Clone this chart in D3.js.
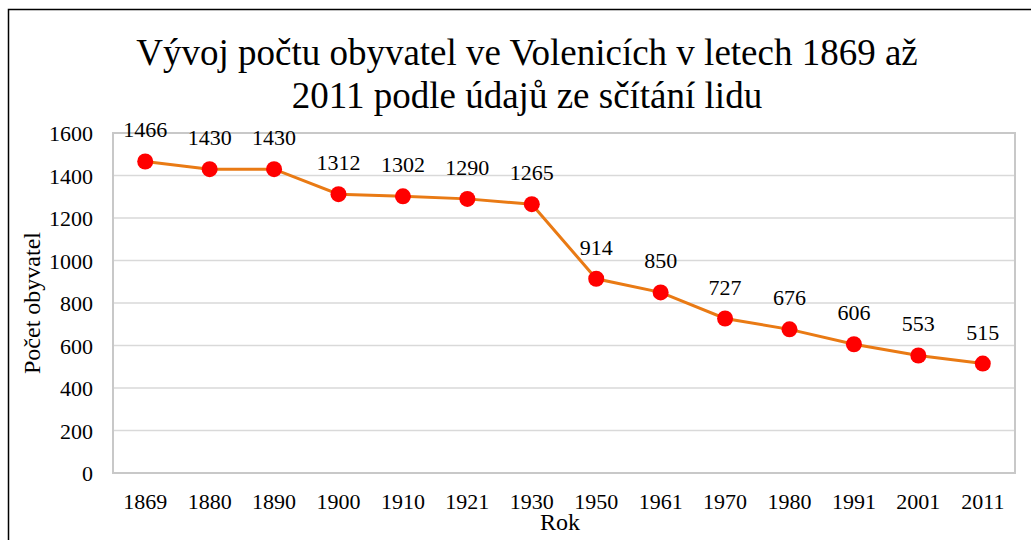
<!DOCTYPE html>
<html>
<head>
<meta charset="utf-8">
<script src="https://cdn.jsdelivr.net/npm/d3@7"></script>
<style>
  body { margin: 0; background: #fff; }
  svg text { font-family: "Times New Roman", "Liberation Serif", "DejaVu Serif", serif !important; fill: #000; }
</style>
</head>
<body>
<div id="chart"></div>
<script>
// data
const years = ["1869", "1880", "1890", "1900", "1910", "1921", "1930", "1950", "1961", "1970", "1980", "1991", "2001", "2011"];
const population = [1466, 1430, 1430, 1312, 1302, 1290, 1265, 914, 850, 727, 676, 606, 553, 515];
const yTicks = [0, 200, 400, 600, 800, 1000, 1200, 1400, 1600];
const titleLines = ["Vývoj počtu obyvatel ve Volenicích v letech 1869 až", "2011 podle údajů ze sčítání lidu"];

const W = 1031, H = 540;
const margin = { top: 133, right: 16, bottom: 67, left: 113 },
  width = W - margin.left - margin.right,
  height = H - margin.top - margin.bottom;

const root = d3.select("#chart")
  .append("svg")
  .attr("width", W)
  .attr("height", H);

// outer chart frame (runs off the right/bottom of the picture)
root.append("rect")
  .attr("x", 8.5).attr("y", 9.5)
  .attr("width", 1040).attr("height", 560)
  .attr("fill", "none")
  .attr("stroke", "#000")
  .attr("stroke-width", 1.5);

// title
root.append("text")
  .attr("x", 527)
  .attr("y", 65)
  .attr("text-anchor", "middle")
  .attr("font-size", "37px")
  .selectAll("tspan")
  .data(titleLines)
  .join("tspan")
  .attr("x", 527)
  .attr("dy", (d, i) => i === 0 ? 0 : 43)
  .text(d => d);

const svg = root.append("g")
  .attr("transform", `translate(${margin.left}, ${margin.top})`);

const x = d3.scaleBand()
  .domain(years)
  .range([0, width]);

const y = d3.scaleLinear()
  .domain([0, 1600])
  .range([height, 0]);

// gridlines
svg.append("g")
  .selectAll("line")
  .data(yTicks.filter(t => t > 0))
  .join("line")
  .attr("x1", 0).attr("x2", width)
  .attr("y1", d => y(d)).attr("y2", d => y(d))
  .attr("stroke", "#d9d9d9")
  .attr("stroke-width", 1.5);

// plot area border
svg.append("rect")
  .attr("x", 0).attr("y", 0)
  .attr("width", width).attr("height", height)
  .attr("fill", "none")
  .attr("stroke", "#c8c8c8")
  .attr("stroke-width", 2);

// y axis labels
const yAxis = svg.append("g")
  .call(d3.axisLeft(y).tickValues(yTicks).tickFormat(d3.format("d")).tickSize(0).tickPadding(20));
yAxis.select(".domain").remove();
yAxis.selectAll("text")
  .attr("font-size", "22px")
  .attr("dy", "0.35em");

// x axis labels
const xAxis = svg.append("g")
  .attr("transform", `translate(0, ${height})`)
  .call(d3.axisBottom(x).tickSize(0).tickPadding(20));
xAxis.select(".domain").remove();
xAxis.selectAll("text")
  .attr("font-size", "22px")
  .attr("dy", "0.71em");

// line
const line = d3.line()
  .x((d, i) => x(years[i]) + x.bandwidth() / 2)
  .y(d => y(d));

svg.append("path")
  .datum(population)
  .attr("fill", "none")
  .attr("stroke", "#E97A14")
  .attr("stroke-width", 3)
  .attr("d", line);

svg.selectAll(".dot")
  .data(population)
  .join("circle")
  .attr("class", "dot")
  .attr("cx", (d, i) => x(years[i]) + x.bandwidth() / 2)
  .attr("cy", d => y(d))
  .attr("r", 8)
  .attr("fill", "#FF0000");

// data labels
svg.selectAll(".lbl")
  .data(population)
  .join("text")
  .attr("class", "lbl")
  .attr("x", (d, i) => x(years[i]) + x.bandwidth() / 2)
  .attr("y", d => y(d) - 24)
  .attr("text-anchor", "middle")
  .attr("font-size", "22px")
  .text(d => d);

// axis titles
root.append("text")
  .attr("transform", `translate(40, ${margin.top + height / 2}) rotate(-90)`)
  .attr("text-anchor", "middle")
  .attr("font-size", "24px")
  .text("Počet obyvatel");

root.append("text")
  .attr("x", margin.left + width / 2 - 4)
  .attr("y", 530)
  .attr("text-anchor", "middle")
  .attr("font-size", "24px")
  .text("Rok");
</script>
</body>
</html>
